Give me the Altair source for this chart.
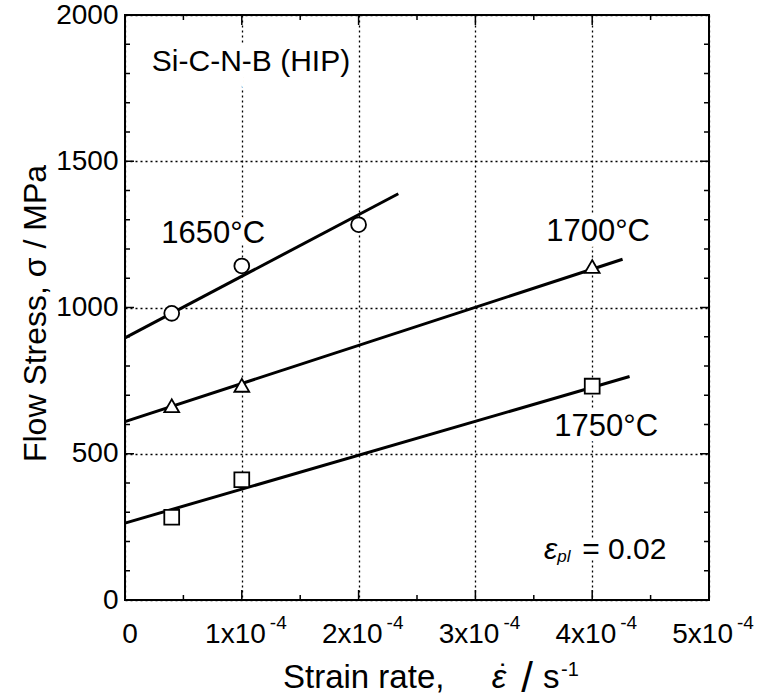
import altair as alt
import pandas as pd

# ---------------- data ----------------
series_names = ["1650°C", "1700°C", "1750°C"]
rate_1650 = [0.4e-4, 1.0e-4, 2.0e-4]
stress_1650 = [980, 1142, 1283]
rate_1700 = [0.4e-4, 1.0e-4, 4.0e-4]
stress_1700 = [664, 734, 1140]
rate_1750 = [0.4e-4, 1.0e-4, 4.0e-4]
stress_1750 = [283, 411, 731]

fit_rate_start = [0.0, 0.0, 0.0]
fit_rate_end = [2.34e-4, 4.26e-4, 4.32e-4]
fit_stress_start = [896, 610, 263]
fit_stress_end = [1389, 1165, 764]

x_major = [0, 1e-4, 2e-4, 3e-4, 4e-4, 5e-4]
x_inner_major = [1e-4, 2e-4, 3e-4, 4e-4]
x_minor = [0.5e-4, 1.5e-4, 2.5e-4, 3.5e-4, 4.5e-4]
y_major = [0, 500, 1000, 1500, 2000]
y_inner_major = [500, 1000, 1500]
y_minor = [100, 200, 300, 400, 600, 700, 800, 900, 1100, 1200, 1300, 1400,
           1600, 1700, 1800, 1900]

# x tick labels: mantissa + superscript exponent
x_label_pos = [1e-4, 2e-4, 3e-4, 4e-4, 5e-4]
x_label_mant = ["1x10", "2x10", "3x10", "4x10", "5x10"]
x_label_exp = ["-4", "-4", "-4", "-4", "-4"]
x_zero_pos = [0.0]
x_zero_text = ["0"]

label_text = ["1650°C", "1700°C", "1750°C"]
label_rate = [0.755e-4, 4.05e-4, 4.12e-4]
label_stress = [1251, 1257, 591]

title_text = ["Si-C-N-B (HIP)"]
title_rate = [0.23e-4]
title_stress = [1840]

strain_rate = [4.0e-4]
strain_stress = [172]

# ---------------- tables ----------------
pts = pd.DataFrame({
    "rate": rate_1650 + rate_1700 + rate_1750,
    "stress": stress_1650 + stress_1700 + stress_1750,
    "T": [series_names[0]] * 3 + [series_names[1]] * 3 + [series_names[2]] * 3,
})
fits = pd.DataFrame({"x0": fit_rate_start, "x1": fit_rate_end,
                     "y0": fit_stress_start, "y1": fit_stress_end, "T": series_names})
labels = pd.DataFrame({"t": label_text, "rate": label_rate, "stress": label_stress})
ttl = pd.DataFrame({"t": title_text, "rate": title_rate, "stress": title_stress})
eps = pd.DataFrame({"rate": strain_rate, "stress": strain_stress})
xlab = pd.DataFrame({"rate": x_label_pos, "m": x_label_mant, "e": x_label_exp})
xzero = pd.DataFrame({"rate": x_zero_pos, "m": x_zero_text})

W, H = 584, 585
FONT = "Liberation Sans"

xscale = alt.Scale(domain=[0, 5e-4], nice=False, zero=False)
yscale = alt.Scale(domain=[0, 2000], nice=False, zero=False)

xaxis = alt.Axis(values=x_major, labels=False, title=None)
yaxis = alt.Axis(
    values=y_major, format="d",
    title="Flow Stress, \u03c3 / MPa",
    titleX=-80, titleY=298, titleAngle=-90, titleBaseline="alphabetic", titleAlign="center",
    labelPadding=7, labelFontSize=28, titleFontSize=32, labelFlush=False,
)


def X(field="rate"):
    return alt.X(f"{field}:Q", scale=xscale, axis=xaxis)


def Y(field="stress"):
    return alt.Y(f"{field}:Q", scale=yscale, axis=yaxis)


# knockout (white halo) texts, so the dotted grid breaks around the labels
halo_labels = alt.Chart(labels).mark_text(
    font=FONT, fontSize=31, stroke="white", strokeWidth=12, fill="white", baseline="middle"
).encode(x=X(), y=Y(), text="t:N")
halo_title = alt.Chart(ttl).mark_text(
    font=FONT, fontSize=30, stroke="white", strokeWidth=12, fill="white",
    align="left", baseline="middle"
).encode(x=X(), y=Y(), text="t:N")
halo_eps = alt.Chart(eps).mark_text(
    font=FONT, fontSize=30, stroke="white", strokeWidth=12, fill="white",
    align="left", baseline="middle", dx=-48
).encode(x=X(), y=Y(), text=alt.value("\u03b5pl = 0.02"))

fit_lines = alt.Chart(fits).mark_rule(color="black", strokeWidth=3).encode(
    x=X("x0"), x2="x1:Q", y=Y("y0"), y2="y1:Q"
)

markers = alt.Chart(pts).mark_point(
    filled=False, fill="white", fillOpacity=1, stroke="black", strokeWidth=1.8,
    size=220, opacity=1
).encode(
    x=X(), y=Y(),
    shape=alt.Shape("T:N", scale=alt.Scale(domain=series_names,
                                           range=["circle", "triangle-up", "square"]),
                    legend=None),
)

text_labels = alt.Chart(labels).mark_text(
    font=FONT, fontSize=31, color="black", baseline="middle"
).encode(x=X(), y=Y(), text="t:N")
text_title = alt.Chart(ttl).mark_text(
    font=FONT, fontSize=30, color="black", align="left", baseline="middle"
).encode(x=X(), y=Y(), text="t:N")
eps_sym = alt.Chart(eps).mark_text(
    font=FONT, fontSize=30, fontStyle="italic", color="black",
    align="right", baseline="middle", dx=-35
).encode(x=X(), y=Y(), text=alt.value("\u03b5"))
eps_sub = alt.Chart(eps).mark_text(
    font=FONT, fontSize=17, fontStyle="italic", color="black",
    align="left", baseline="middle", dx=-35, dy=7
).encode(x=X(), y=Y(), text=alt.value("pl"))
eps_val = alt.Chart(eps).mark_text(
    font=FONT, fontSize=30, color="black", align="left", baseline="middle", dx=-10
).encode(x=X(), y=Y(), text=alt.value("= 0.02"))

# x tick labels with raised exponents
xl_mant = alt.Chart(xlab).mark_text(
    font=FONT, fontSize=28, color="black", align="right", baseline="alphabetic", dx=24
).encode(x=X(), y=alt.value(H + 43), text="m:N")
xl_exp = alt.Chart(xlab).mark_text(
    font=FONT, fontSize=19, color="black", align="left", baseline="alphabetic", dx=28
).encode(x=X(), y=alt.value(H + 29), text="e:N")
xl_zero = alt.Chart(xzero).mark_text(
    font=FONT, fontSize=28, color="black", align="center", baseline="alphabetic", dx=5
).encode(x=X(), y=alt.value(H + 43), text="m:N")

# x axis title: Strain rate, (eps-dot) / s^-1
TB = H + 88
xt_main = alt.Chart(xzero).mark_text(
    font=FONT, fontSize=33, color="black", align="left", baseline="alphabetic"
).encode(x=alt.value(158), y=alt.value(TB), text=alt.value("Strain rate,"))
xt_eps = alt.Chart(xzero).mark_text(
    font=FONT, fontSize=33, fontStyle="italic", color="black", align="center",
    baseline="alphabetic"
).encode(x=alt.value(374), y=alt.value(TB), text=alt.value("\u03b5"))
xt_dot = alt.Chart(xzero).mark_text(
    font=FONT, fontSize=30, color="black", align="center", baseline="alphabetic"
).encode(x=alt.value(379), y=alt.value(TB - 3), text=alt.value("\u02d9"))
xt_slash = alt.Chart(xzero).mark_text(
    font=FONT, fontSize=42, color="black", align="center", baseline="alphabetic"
).encode(x=alt.value(402), y=alt.value(TB + 4), text=alt.value("/"))
xt_s = alt.Chart(xzero).mark_text(
    font=FONT, fontSize=33, color="black", align="left", baseline="alphabetic"
).encode(x=alt.value(418), y=alt.value(TB), text=alt.value("s"))
xt_exp = alt.Chart(xzero).mark_text(
    font=FONT, fontSize=20, color="black", align="left", baseline="alphabetic"
).encode(x=alt.value(436), y=alt.value(TB - 12), text=alt.value("-1"))

# inward ticks on all four sides
ymin_df = pd.DataFrame({"stress": y_minor})
ymaj_df = pd.DataFrame({"stress": y_inner_major})
xmin_df = pd.DataFrame({"rate": x_minor})
xmaj_df = pd.DataFrame({"rate": x_inner_major})


def yticks(df, length):
    l = alt.Chart(df).mark_rule(color="black", strokeWidth=1.5).encode(
        y=Y(), x=alt.value(0), x2=alt.value(length))
    r = alt.Chart(df).mark_rule(color="black", strokeWidth=1.5).encode(
        y=Y(), x=alt.value(W), x2=alt.value(W - length))
    return [l, r]


def xticks(df, length):
    b = alt.Chart(df).mark_rule(color="black", strokeWidth=1.5).encode(
        x=X(), y=alt.value(H), y2=alt.value(H - length))
    t = alt.Chart(df).mark_rule(color="black", strokeWidth=1.5).encode(
        x=X(), y=alt.value(0), y2=alt.value(length))
    return [b, t]


tick_layers = yticks(ymin_df, 5) + yticks(ymaj_df, 9) + xticks(xmin_df, 5) + xticks(xmaj_df, 10)

chart = alt.layer(
    halo_labels, halo_title, halo_eps, *tick_layers,
    fit_lines, markers, text_labels, text_title, eps_sym, eps_sub, eps_val,
    xl_mant, xl_exp, xl_zero,
    xt_main, xt_eps, xt_dot, xt_slash, xt_s, xt_exp
).properties(
    width=W, height=H,
    autosize=alt.AutoSizeParams(type="none"),
    padding={"left": 125, "top": 15, "right": 56, "bottom": 100},
    background="white",
).configure_view(
    stroke="black", strokeWidth=2
).configure_axis(
    domain=False, ticks=False, grid=True, gridColor="black", gridDash=[2, 3],
    gridWidth=1.3, gridOpacity=1, labelColor="black", titleColor="black",
    labelFont=FONT, titleFont=FONT, titleFontWeight="normal",
)

chart.save("out.html", embed_options={"renderer": "svg", "actions": False})
